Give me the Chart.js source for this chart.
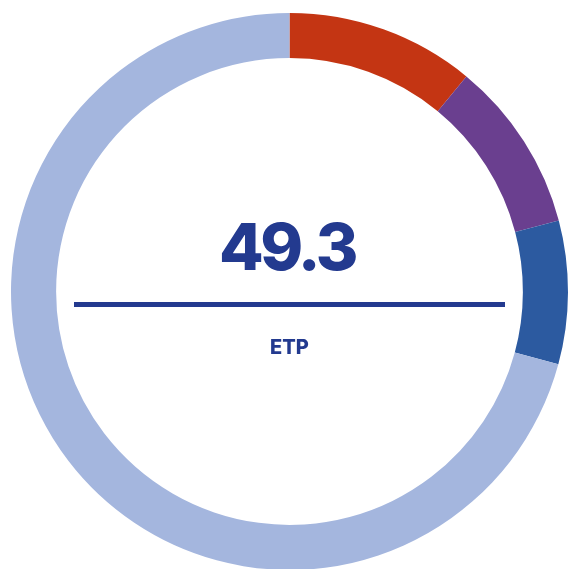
<!DOCTYPE html>
<html>
<head>
<meta charset="utf-8">
<script src="https://cdn.jsdelivr.net/npm/chart.js@4"></script>
<style>
  html, body { margin: 0; padding: 0; background: #fff; overflow: hidden; }
  .chart-container { position: absolute; left: 0; top: 0; width: 579px; height: 583px; }
</style>
</head>
<body>
<div class="chart-container">
  <canvas id="chart" width="579" height="583"></canvas>
</div>
<script>
// segments, clockwise from the top
const labels = ['A', 'B', 'C', 'Autres'];
const values = [5.4, 4.9, 4.1, 34.9];
const colors = ['#c43513', '#6a3f8f', '#2c5aa0', '#a4b6de'];
const centerValue = '49.3';
const centerLabel = 'ETP';

const centerText = {
    id: 'centerText',
    afterDraw(chart) {
        const ctx = chart.ctx;
        const meta = chart.getDatasetMeta(0).data[0];
        const x = meta.x, y = meta.y;
        ctx.save();
        ctx.fillStyle = '#233a8f';
        ctx.textAlign = 'center';
        ctx.textBaseline = 'alphabetic';
        ctx.font = '800 65px Inter';
        ctx.letterSpacing = '-3.5px';
        ctx.fillText(centerValue, x - 2.5, y - 21.5);
        ctx.letterSpacing = '0px';
        ctx.fillRect(x - 215.5, y + 10.5, 431, 5);
        ctx.font = '800 20px Inter';
        ctx.fillText(centerLabel, x, y + 62.5);
        ctx.restore();
    }
};

const ctx = document.getElementById('chart').getContext('2d');
new Chart(ctx, {
    type: 'doughnut',
    data: {
        labels: labels,
        datasets: [{
            data: values,
            backgroundColor: colors,
            borderWidth: 0
        }]
    },
    options: {
        responsive: false,
        animation: false,
        cutout: '83.8%',
        events: [],
        layout: { padding: { left: 11, right: 11, top: 13, bottom: 13 } },
        plugins: {
            legend: { display: false },
            tooltip: { enabled: false }
        }
    },
    plugins: [centerText]
});
</script>
</body>
</html>
